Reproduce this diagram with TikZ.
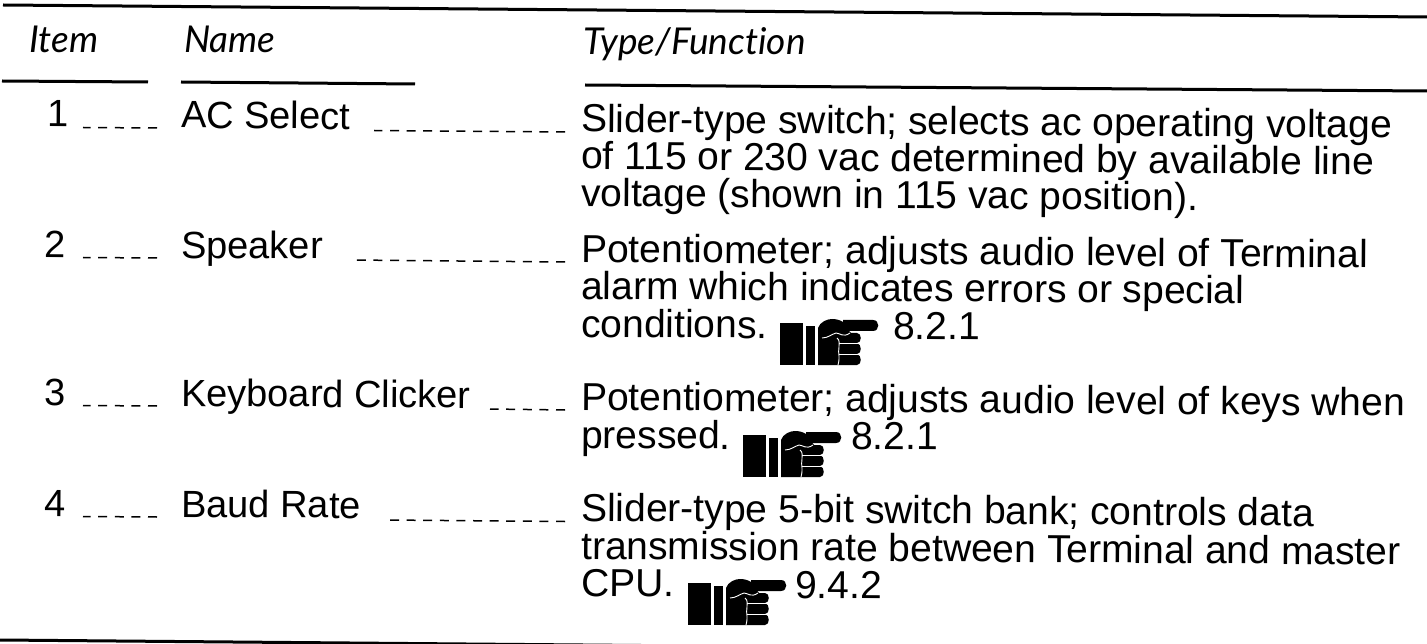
\documentclass[tikz,border=0pt]{standalone}
\usepackage{fontspec}
\setmainfont{Liberation Sans}
\newfontfamily\headfont{Lato}[ItalicFont=* Italic,Ligatures=NoCommon]
\newcommand{\handicon}[1]{%
\begin{scope}[shift={(#1)},x=1pt,y=-1pt]
 \fill (0,3) rectangle (23,45);
 \fill (26,6) rectangle (35,45);
 \fill (38,45) -- (38,8) .. controls (40,2) and (47,-1) .. (52,-1) .. controls (56,-1) and (60,0) .. (63,2) -- (63,0) -- (93,0) .. controls (100,0) and (100,11) .. (93,11) -- (69,11) -- (71,13) -- (77,13) .. controls (82,13) and (82,23) .. (77,23) .. controls (82,24) and (82,34) .. (77,34) .. controls (82,35) and (82,45) .. (77,45) -- cycle;
 \draw[white,line width=0.9pt] (42,18) .. controls (48,18) and (52,14) .. (56,13) .. controls (60,13) and (63,18) .. (70,13);
 \draw[white,line width=0.9pt] (57,18) .. controls (60,20) and (59,24) .. (59,27) .. controls (59,30) and (58,33) .. (59,36) .. controls (59,40) and (59,42) .. (58,45);
 \draw[white,line width=0.9pt] (59,23) -- (81,23) (59,34) -- (81,34);
\end{scope}}
\tikzset{
 body/.style={anchor=base west,inner sep=0pt,rotate=-0.42,font=\fontsize{39}{39}\selectfont},
 side/.style={anchor=base west,inner sep=0pt,rotate=-0.42,font=\fontsize{38}{38}\selectfont},
 head/.style={anchor=base west,inner sep=0pt,font=\headfont\itshape\fontsize{37}{37}\selectfont},
 rule/.style={line width=3pt},
 leader/.style={line width=1.5pt,dash pattern=on 9pt off 7.6pt}
}
\begin{document}
\begin{tikzpicture}[x=1pt,y=-1pt]
\useasboundingbox (0,0) rectangle (1427,644);
\coordinate (topL) at (3,5); \coordinate (topR) at (1427,17);
\draw[rule] (topL) -- (topR);
\coordinate (itemL) at (2,81); \coordinate (itemR) at (148,82);
\draw[rule] (itemL) -- (itemR);
\coordinate (nameL) at (181,82); \coordinate (nameR) at (415,84);
\draw[rule] (nameL) -- (nameR);
\coordinate (typeL) at (585,85); \coordinate (typeR) at (1427,91);
\draw[rule] (typeL) -- (typeR);
\coordinate (botL) at (0,640); \coordinate (botR) at (700,646);
\draw[rule] (botL) -- (botR);
\node[head] (hItem) at (29,53) {Item};
\node[head] (hName) at (184,53) {Name};
\node[head] (hType) at (583,55) {Type/Function};
% rows
\node[side] (n1) at (47,127) {1};
\node[side] (a1) at (181,128) {AC Select};
\node[body] (t1a) at (581,132) {Slider-type switch; selects ac operating voltage};
\node[body] (t1b) at (581,169) {of 115 or 230 vac determined by available line};
\node[body] (t1c) at (581,206) {voltage (shown in 115 vac position).};
\node[side] (n2) at (44,257) {2};
\node[side] (a2) at (181,258) {Speaker};
\node[body] (t2a) at (581,262) {Potentiometer; adjusts audio level of Terminal};
\node[body] (t2b) at (581,299) {alarm which indicates errors or special};
\node[body] (t2c) at (581,337) {conditions.};
\node[body] (r2) at (893,339) {8.2.1};
\node[side] (n3) at (44,405) {3};
\node[side] (a3) at (181,406) {Keyboard Clicker};
\node[body] (t3a) at (581,410) {Potentiometer; adjusts audio level of keys when};
\node[body] (t3b) at (581,448) {pressed.};
\node[body] (r3) at (851,449) {8.2.1};
\node[side] (n4) at (44,516) {4};
\node[side] (a4) at (181,517) {Baud Rate};
\node[body] (t4a) at (581,521) {Slider-type 5-bit switch bank; controls data};
\node[body] (t4b) at (581,559) {transmission rate between Terminal and master};
\node[body] (t4c) at (581,596) {CPU.};
\node[body] (r4) at (795,598) {9.4.2};
\handicon{780,320}
\handicon{743,432}
\handicon{688,580}
\foreach \k/\yl/\yr/\ys/\xa in {1/128/132/130.5/374,2/258/262/260/351,3/406/410/409/490,4/517/521.5/520/384}{
 \coordinate (la\k) at (157,\yl); \coordinate (lb\k) at (83,\yl-0.5);
 \draw[leader] (la\k) -- (lb\k);
 \coordinate (lc\k) at (565,\yr); \coordinate (ld\k) at (\xa,\ys);
 \draw[leader] (lc\k) -- (ld\k);
}
\end{tikzpicture}
\end{document}
